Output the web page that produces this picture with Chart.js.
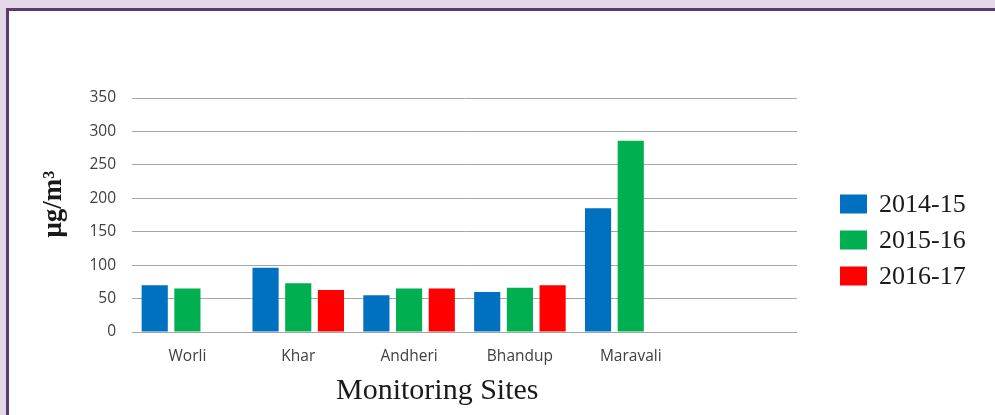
<!DOCTYPE html>
<html>
<head>
<meta charset="utf-8">
<script src="https://cdn.jsdelivr.net/npm/chart.js@4.4.0/dist/chart.umd.min.js"></script>
<style>
  html, body { margin: 0; padding: 0; background: #e4d9e7; overflow: hidden; }
  #frame { position: absolute; left: 6px; top: 8px; width: 1000px; height: 420px;
           border: 3px solid #5d3a72; background: #ffffff; }
  #wrap { position: absolute; left: 0; top: 0; width: 995px; height: 415px; }
</style>
</head>
<body>
<div id="frame"></div>
<div id="wrap"><canvas id="c"></canvas></div>
<script>
const categories = ['Worli', 'Khar', 'Andheri', 'Bhandup', 'Maravali', ''];
const seriesNames = ['2014-15', '2015-16', '2016-17'];
const values2014 = [70, 96, 55, 60, 185, null];
const values2015 = [65, 73, 65, 66, 286, null];
const values2016 = [null, 63, 65, 70, null, null];
const seriesColors = ['#0070c0', '#00b050', '#ff0000'];
const yTicks = [0, 50, 100, 150, 200, 250, 300, 350];
const xTitle = 'Monitoring Sites';
const yTitle = 'μg/m³';

const titlesAndLegend = {
  id: 'titlesAndLegend',
  afterDraw(chart) {
    const ctx = chart.ctx;
    const a = chart.chartArea;
    ctx.save();
    // x axis title
    ctx.fillStyle = '#1a1a1a';
    ctx.font = '30px "Liberation Serif", "Times New Roman", serif';
    ctx.textAlign = 'center';
    ctx.textBaseline = 'alphabetic';
    ctx.fillText(xTitle, a.left + (a.right - a.left) * 0.459, 399);
    // y axis title
    ctx.save();
    ctx.translate(61, 204);
    ctx.rotate(-Math.PI / 2);
    ctx.font = 'bold 27px "Liberation Serif", "Times New Roman", serif';
    ctx.textAlign = 'center';
    ctx.textBaseline = 'alphabetic';
    ctx.fillText(yTitle, 0, 0);
    ctx.restore();
    // legend
    ctx.font = '26px "Liberation Serif", "Times New Roman", serif';
    ctx.textAlign = 'left';
    ctx.textBaseline = 'middle';
    chart.data.datasets.forEach((ds, i) => {
      const cy = 204 + i * 36;
      ctx.fillStyle = ds.backgroundColor;
      ctx.fillRect(a.right + 43, cy - 9.5, 27, 19);
      ctx.fillStyle = '#1a1a1a';
      ctx.fillText(ds.label, a.right + 82, cy + 1);
    });
    ctx.restore();
  }
};

new Chart(document.getElementById('c'), {
  type: 'bar',
  data: {
    labels: categories,
    datasets: [
      { label: seriesNames[0], data: values2014, backgroundColor: seriesColors[0] },
      { label: seriesNames[1], data: values2015, backgroundColor: seriesColors[1] },
      { label: seriesNames[2], data: values2016, backgroundColor: seriesColors[2] }
    ]
  },
  options: {
    responsive: true,
    maintainAspectRatio: false,
    animation: false,
    layout: { padding: { left: 20, right: 198, top: 98, bottom: 43 } },
    datasets: { bar: { categoryPercentage: 0.885, barPercentage: 0.8 } },
    plugins: { legend: { display: false }, tooltip: { enabled: false } },
    scales: {
      x: {
        grid: { display: false },
        border: { display: false },
        ticks: { color: '#404040', font: { family: '"Open Sans", sans-serif', size: 15.5 }, padding: 7, maxRotation: 0 },
        afterFit(scale) { scale.height = 40; }
      },
      y: {
        min: 0, max: 350,
        afterBuildTicks(scale) { scale.ticks = yTicks.map(v => ({ value: v })); },
        grid: { color: '#a6a6a6', lineWidth: 1, drawTicks: false },
        border: { display: false },
        ticks: { color: '#404040', font: { family: '"Open Sans", sans-serif', size: 15.5 }, padding: 16 },
        afterFit(scale) { scale.width = 112; }
      }
    }
  },
  plugins: [titlesAndLegend]
});
</script>
</body>
</html>
